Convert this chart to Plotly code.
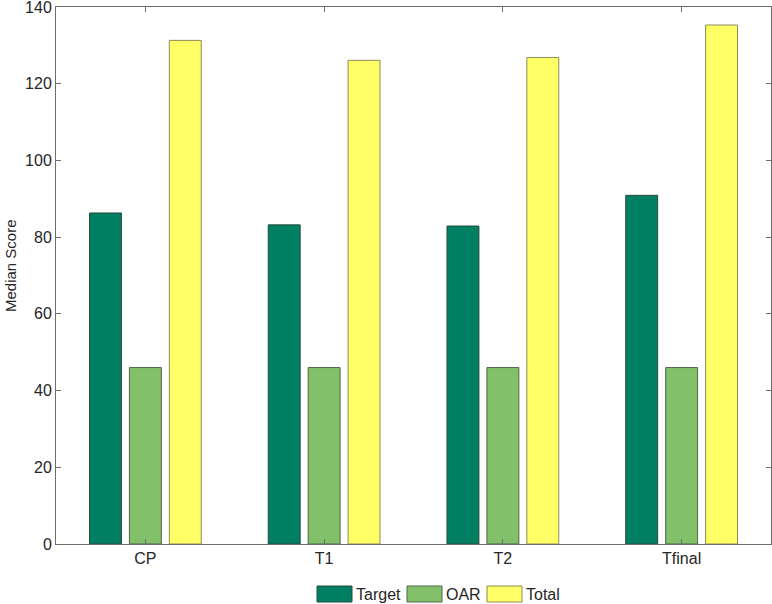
import plotly.graph_objects as go

categories = ["CP", "T1", "T2", "Tfinal"]
target = [86.3, 83.2, 82.9, 90.9]
oar = [46.0, 46.0, 46.0, 46.0]
total = [131.3, 126.1, 126.85, 135.3]
y_title = "Median Score"

series = [
    ("Target", target, "#007f62", "#2b4a3c"),
    ("OAR", oar, "#82c06a", "#4f6648"),
    ("Total", total, "#ffff66", "#8c8c5a"),
]

W, H = 772, 604
ML, MR, MT, MB = 56, 1, 7, 60
PW, PH = W - ML - MR, H - MT - MB

def px_x(p):
    return (p - ML) / PW

def px_y(p):
    return (H - MB - p) / PH

x = [1, 2, 3, 4]
fig = go.Figure()
for name, vals, col, edge in series:
    fig.add_trace(go.Bar(
        x=x, y=vals, name=name, showlegend=False, hoverinfo="skip",
        marker=dict(color=col, line=dict(color=edge, width=1)),
    ))

font_col = "#262626"
axis_col = "#6e6e6e"

# custom MATLAB-style legend (big swatches)
legend_left = [317, 407, 487]
sw_w, sw_top, sw_bot = 35, 586, 602
shapes, annots = [], []
for (name, vals, col, edge), lx in zip(series, legend_left):
    shapes.append(dict(type="rect", xref="paper", yref="paper",
                       x0=px_x(lx), x1=px_x(lx + sw_w), y0=px_y(sw_bot), y1=px_y(sw_top),
                       fillcolor=col, line=dict(color=edge, width=1)))
    annots.append(dict(xref="paper", yref="paper", x=px_x(lx + sw_w + 2),
                       y=px_y((sw_top + sw_bot) / 2), xanchor="left", yanchor="middle",
                       text=name, showarrow=False, font=dict(size=16, color=font_col)))

# y-axis title
annots.append(dict(xref="paper", yref="paper", x=px_x(10), y=px_y(266),
                   xanchor="center", yanchor="middle", textangle=-90,
                   text=y_title, showarrow=False, font=dict(size=15, color=font_col)))

fig.update_layout(
    width=W, height=H,
    margin=dict(l=ML, r=MR, t=MT, b=MB, autoexpand=False),
    paper_bgcolor="white", plot_bgcolor="white",
    barmode="group", bargap=0.33, bargroupgap=0.2,
    font=dict(family="Liberation Sans, Arial, sans-serif", size=16, color=font_col),
    showlegend=False,
    shapes=shapes, annotations=annots,
)
fig.update_xaxes(
    range=[0.5, 4.5], tickmode="array", tickvals=x, ticktext=categories,
    showline=True, linecolor=axis_col, linewidth=1, mirror="ticks",
    ticks="inside", ticklen=5, tickcolor=axis_col, showgrid=False, zeroline=False,
    tickfont=dict(size=16, color=font_col), automargin=False,
)
fig.update_yaxes(
    range=[0, 140], tickvals=[0, 20, 40, 60, 80, 100, 120, 140],
    showline=True, linecolor=axis_col, linewidth=1, mirror="ticks",
    ticks="inside", ticklen=5, tickcolor=axis_col, showgrid=False, zeroline=False,
    tickfont=dict(size=16, color=font_col), automargin=False,
    ticklabeloverflow="allow",
)
fig.write_html("out.html", config={"displayModeBar": False},
               post_script="document.body.style.margin='0';")
